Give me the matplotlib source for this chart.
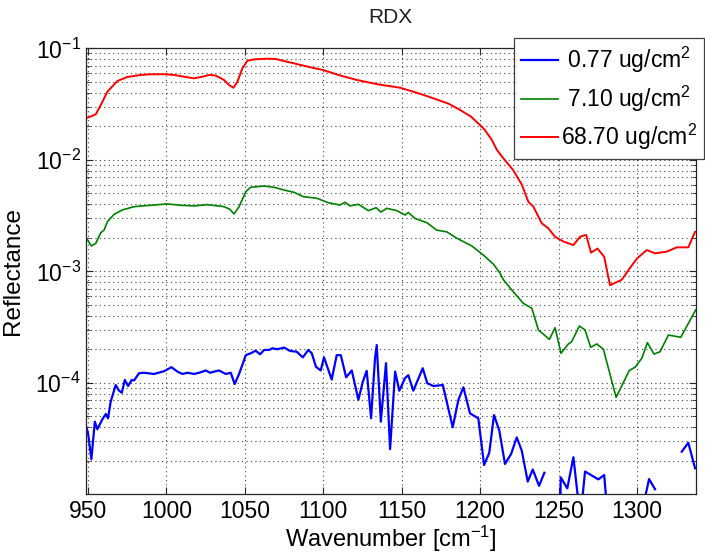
import numpy as np
import matplotlib
matplotlib.use("Agg")
import matplotlib.pyplot as plt
from matplotlib.ticker import LogLocator, NullFormatter, FixedLocator

plt.rcParams['font.family'] = ['Liberation Sans', 'DejaVu Sans']
plt.rcParams['mathtext.fontset'] = 'custom'
plt.rcParams['mathtext.rm'] = 'Liberation Sans'
plt.rcParams['mathtext.it'] = 'Liberation Sans:italic'

# reflectance spectra of RDX at three surface loadings
wn_low = [948.7, 950.2, 952.3, 954.5, 956.1, 959.3, 961.5, 962.9, 964.6, 967.8,
          969.9, 971.7, 973.6, 975.7, 978.0, 979.5, 982.7, 985.9, 992.2, 998.6,
          1003.3, 1007.1, 1010.3, 1013.5, 1017.7, 1020.9, 1025.2, 1027.9, 1030.5, 1033.6,
          1037.9, 1041.1, 1043.6, 1046.4, 1050.7, 1053.8, 1057.0, 1059.8, 1062.3, 1065.5,
          1067.6, 1070.8, 1075.1, 1078.9, 1083.1, 1087.0, 1090.5, 1092.7, 1095.4, 1098.4,
          1100.5, 1105.4, 1108.6, 1111.2, 1114.6, 1118.2, 1122.4, 1125.2, 1127.7, 1130.5,
          1133.0, 1134.1, 1136.7, 1140.0, 1142.6, 1145.8, 1148.5, 1152.1, 1154.2, 1157.4,
          1163.4, 1166.3, 1170.2, 1176.2, 1182.5, 1186.1, 1189.3, 1193.5, 1198.8, 1202.5,
          1205.8, 1208.8, 1212.2, 1215.8, 1219.7, 1223.3, 1226.5, 1230.3, 1233.5, 1237.5,
          1240.9, 1245.0, 1250.9, 1251.3, 1255.5, 1259.4, 1263.8, 1266.8, 1275.3, 1279.0,
          1281.8, 1290.0, 1302.0, 1307.6, 1311.4, 1320.0, 1328.4, 1332.6, 1336.9]
refl_low = [4.19e-5, 3.52e-5, 2.06e-5, 4.48e-5, 3.83e-5, 4.71e-5, 5.25e-5, 4.8e-5, 6.78e-5, 9.55e-5,
            8.49e-5, 8.15e-5, 1.06e-4, 9.36e-5, 1.06e-4, 1.05e-4, 1.22e-4, 1.23e-4, 1.2e-4, 1.27e-4,
            1.38e-4, 1.26e-4, 1.2e-4, 1.23e-4, 1.2e-4, 1.23e-4, 1.29e-4, 1.23e-4, 1.26e-4, 1.29e-4,
            1.2e-4, 1.23e-4, 9.75e-5, 1.2e-4, 1.77e-4, 1.84e-4, 1.94e-4, 1.8e-4, 1.97e-4, 1.97e-4,
            2.04e-4, 2.0e-4, 2.07e-4, 1.93e-4, 1.9e-4, 1.69e-4, 1.97e-4, 1.84e-4, 1.39e-4, 1.29e-4,
            1.69e-4, 1.07e-4, 1.77e-4, 1.77e-4, 1.12e-4, 1.29e-4, 7.02e-5, 1.02e-4, 1.28e-4, 4.8e-5,
            1.66e-4, 2.18e-4, 4.48e-5, 1.5e-4, 2.54e-5, 1.26e-4, 8.49e-5, 1.1e-4, 1.17e-4, 8.49e-5,
            1.35e-4, 9.9e-5, 9.36e-5, 9.55e-5, 3.99e-5, 7.02e-5, 9.12e-5, 5.32e-5, 4.8e-5, 1.83e-5,
            2.36e-5, 5.14e-5, 3.72e-5, 1.87e-5, 2.3e-5, 3.24e-5, 2.46e-5, 1.3e-5, 1.67e-5, 1.19e-5,
            1.56e-5, np.nan, 3e-6, 1.42e-5, 1.13e-5, 2.15e-5, 6e-6, 1.6e-5, 1.36e-5, 1.49e-5,
            5e-6, np.nan, 6e-6, 1.37e-5, 1.11e-5, np.nan, 2.41e-5, 2.9e-5, 1.71e-5]

wn_mid = [948.7, 952.3, 955.1, 958.3, 960.4, 962.5, 966.8, 972.0, 979.5, 990.1,
          1000.7, 1009.2, 1017.7, 1026.2, 1036.8, 1040.5, 1043.2, 1046.4, 1050.7, 1053.8,
          1062.3, 1068.7, 1075.0, 1081.4, 1087.4, 1095.9, 1103.3, 1110.7, 1113.9, 1117.1,
          1122.4, 1128.8, 1133.7, 1136.7, 1140.5, 1146.9, 1152.1, 1154.2, 1158.5, 1166.0,
          1172.3, 1178.7, 1185.1, 1194.6, 1202.0, 1208.4, 1212.7, 1214.8, 1220.1, 1227.5,
          1232.9, 1237.1, 1244.1, 1247.7, 1251.5, 1256.2, 1258.3, 1263.2, 1266.8, 1270.4,
          1274.3, 1278.5, 1286.6, 1295.0, 1298.7, 1303.0, 1306.5, 1310.8, 1314.6, 1319.9,
          1327.8, 1337.3]
refl_mid = [2.02e-3, 1.69e-3, 1.78e-3, 2.22e-3, 2.34e-3, 2.79e-3, 3.24e-3, 3.55e-3, 3.8e-3, 3.91e-3,
            4.02e-3, 3.91e-3, 3.86e-3, 3.96e-3, 3.8e-3, 3.6e-3, 3.27e-3, 3.8e-3, 5.18e-3, 5.67e-3,
            5.82e-3, 5.67e-3, 5.36e-3, 5.11e-3, 4.67e-3, 4.52e-3, 4.12e-3, 3.93e-3, 4.16e-3, 3.86e-3,
            3.99e-3, 3.5e-3, 3.72e-3, 3.4e-3, 3.67e-3, 3.5e-3, 3.2e-3, 3.37e-3, 2.98e-3, 2.73e-3,
            2.34e-3, 2.26e-3, 1.98e-3, 1.69e-3, 1.4e-3, 1.16e-3, 9.6e-4, 8.4e-4, 6.8e-4, 5.16e-4,
            4.66e-4, 2.98e-4, 2.45e-4, 3.12e-4, 1.84e-4, 2.23e-4, 2.34e-4, 3.23e-4, 2.98e-4, 2.08e-4,
            2.23e-4, 2.0e-4, 7.4e-5, 1.29e-4, 1.38e-4, 1.66e-4, 2.29e-4, 1.81e-4, 1.9e-4, 2.68e-4,
            2.56e-4, 4.5e-4]

wn_high = [948.7, 952.0, 955.1, 958.3, 962.5, 968.9, 975.2, 983.8, 990.1, 999.7,
           1005.0, 1011.4, 1017.7, 1023.0, 1027.3, 1031.5, 1036.8, 1040.0, 1042.8, 1045.3,
           1048.5, 1051.7, 1056.0, 1064.4, 1069.8, 1075.0, 1081.4, 1090.0, 1100.1, 1110.0,
           1121.4, 1135.0, 1149.0, 1160.0, 1170.2, 1180.0, 1187.2, 1194.0, 1199.9, 1203.0,
           1207.4, 1210.6, 1214.8, 1221.0, 1226.5, 1230.7, 1233.9, 1239.2, 1243.4, 1247.7,
           1253.0, 1259.4, 1263.6, 1267.5, 1270.6, 1274.7, 1279.0, 1282.7, 1290.2, 1295.0,
           1299.8, 1306.1, 1311.4, 1318.8, 1325.2, 1332.6, 1336.9]
refl_high = [0.0236, 0.0245, 0.0256, 0.031, 0.0408, 0.051, 0.0553, 0.0577, 0.0585, 0.0585,
             0.0577, 0.0556, 0.0538, 0.0556, 0.0577, 0.057, 0.052, 0.0469, 0.0443, 0.050,
             0.0662, 0.0774, 0.0796, 0.0807, 0.0802, 0.0769, 0.0733, 0.0685, 0.0638, 0.0575,
             0.052, 0.0475, 0.0443, 0.0398, 0.0356, 0.0318, 0.028, 0.0245, 0.0205, 0.0185,
             0.0151, 0.0123, 0.0103, 0.0081, 0.0060, 0.0042, 0.0038, 0.0027, 0.00243, 0.00204,
             0.00185, 0.00172, 0.00204, 0.00212, 0.00147, 0.0016, 0.00135, 0.00075, 0.00084, 0.00105,
             0.0013, 0.00155, 0.00145, 0.0015, 0.00164, 0.00164, 0.00226]

labels = [' 0.77 ug/cm$^2$', ' 7.10 ug/cm$^2$', '68.70 ug/cm$^2$']

fig = plt.figure(figsize=(7.05, 5.56), dpi=100)
ax = fig.add_axes([0.1216, 0.111, 0.8652, 0.8021])

ax.plot(wn_low, refl_low, color=(0, 0, 1), lw=1.6, label=labels[0])
ax.plot(wn_mid, refl_mid, color=(0, 0.5, 0), lw=1.2, label=labels[1])
ax.plot(wn_high, refl_high, color=(1, 0, 0), lw=1.4, label=labels[2])

ax.set_yscale('log')
ax.set_xlim(948.7, 1337.3)
ax.set_ylim(1e-5, 1e-1)
ax.set_xticks(np.arange(950, 1301, 50))
ax.yaxis.set_major_locator(FixedLocator([1e-4, 1e-3, 1e-2, 1e-1]))
ax.yaxis.set_minor_locator(LogLocator(base=10, subs=np.arange(2, 10), numticks=20))
ax.yaxis.set_minor_formatter(NullFormatter())

ax.tick_params(which='both', direction='in', top=True, right=True,
               labelsize=16.5, colors='#262626', labelcolor='black')
ax.tick_params(which='major', length=5, width=0.8)
ax.tick_params(which='minor', length=3, width=0.6)
ax.tick_params(axis='x', pad=4)

dots = (0, (1, 3))
ax.grid(which='major', axis='both', linestyle=dots, color='#404040', lw=0.8)
ax.grid(which='minor', axis='y', linestyle=dots, color='#404040', lw=0.8)
for s in ax.spines.values():
    s.set_color('#262626')
    s.set_linewidth(0.9)

ax.set_title('RDX', fontsize=15, pad=18, color='#202020')
ax.set_xlabel('Wavenumber [cm$^{-1}$]', fontsize=17, labelpad=1)
ax.set_ylabel('Reflectance', fontsize=17.5, labelpad=8)

leg = fig.legend(loc='upper right', bbox_to_anchor=(0.9985, 0.931), fontsize=16.5,
                 handlelength=1.6, handletextpad=0.15, labelspacing=0.35,
                 borderpad=0.3, borderaxespad=0.0, fancybox=False, framealpha=1,
                 edgecolor='#404040')
leg.get_frame().set_linewidth(0.9)

fig.savefig('out.png', dpi=100)
